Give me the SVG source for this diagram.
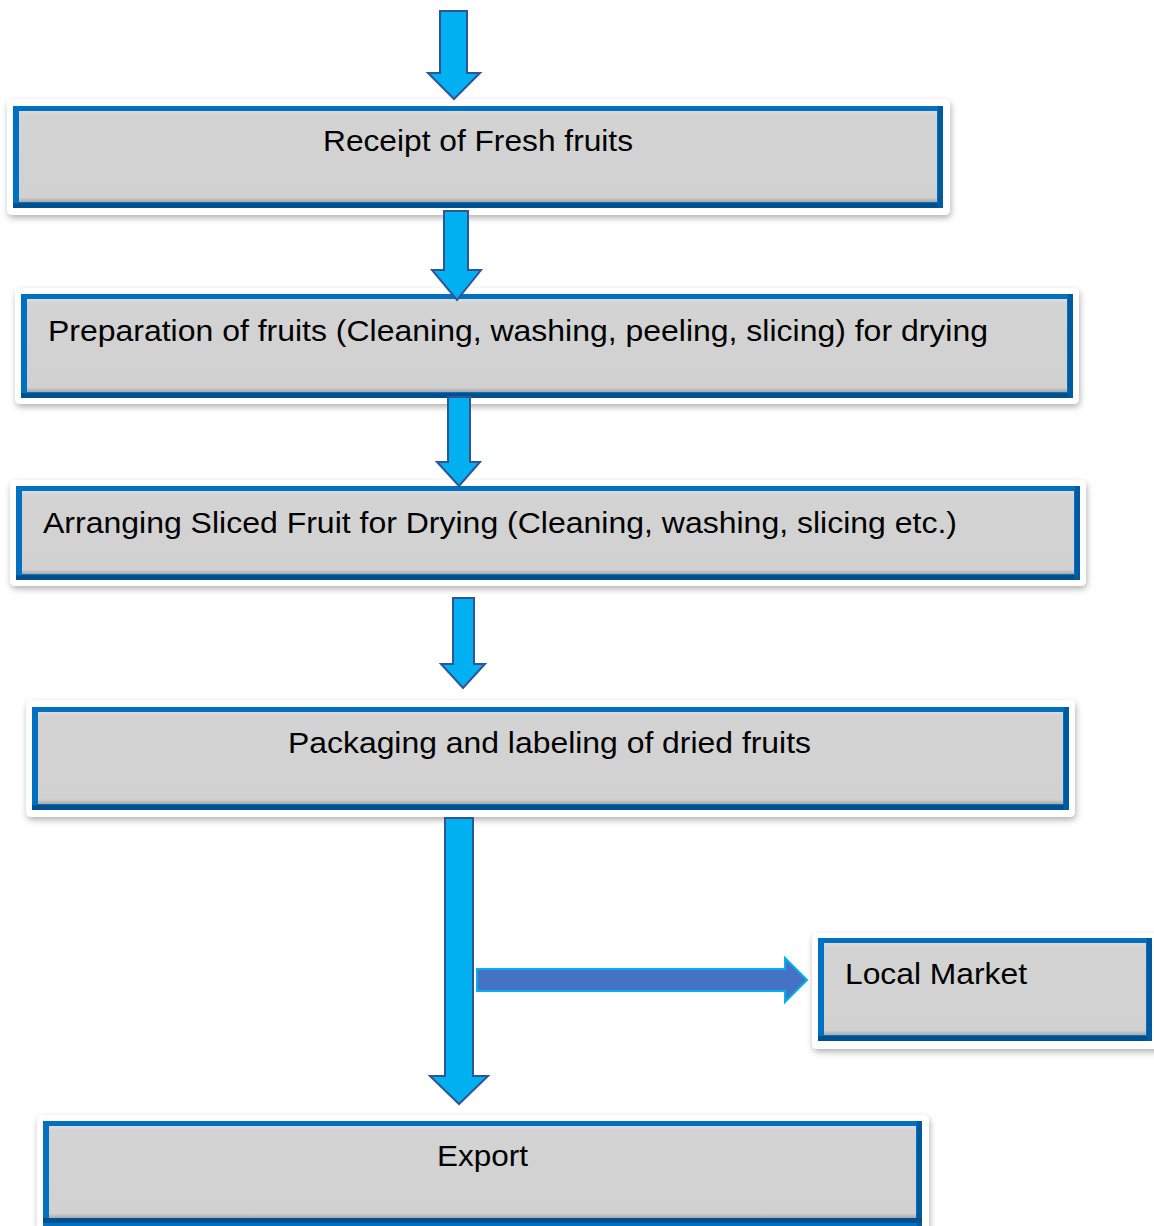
<svg xmlns="http://www.w3.org/2000/svg" width="1154" height="1226" viewBox="0 0 1154 1226">
<style>
.frame{fill:#ffffff;filter:url(#sh)}
.border{fill:#0070C0}
.inner{fill:url(#g)}
.lbl{font-family:"Liberation Sans",Arial,sans-serif;font-size:30px;fill:#000}
.down{fill:#00B0F0;stroke:#2F5597;stroke-width:2;stroke-linejoin:miter}
.side{fill:#4472C4;stroke:#00B0F0;stroke-width:2}
</style>
<defs>
<filter id="sh" x="-5%" y="-20%" width="110%" height="140%">
<feDropShadow dx="1" dy="3" stdDeviation="3" flood-color="#000" flood-opacity="0.3"/>
</filter>
<linearGradient id="g" x1="0" y1="0" x2="0" y2="1">
<stop offset="0" stop-color="#dcdcdc"/>
<stop offset="0.05" stop-color="#d3d3d3"/>
<stop offset="0.95" stop-color="#d1d1d1"/>
<stop offset="1" stop-color="#a9a9a9"/>
</linearGradient>
</defs>
<rect width="1154" height="1226" fill="#ffffff"/>
<g id="receipt">
<rect class="frame" x="7" y="99" width="943" height="116" rx="5"/>
<rect class="border" x="13" y="106" width="930" height="102"/>
<rect x="13" y="203" width="930" height="5" fill="#00508F"/>
<rect x="938" y="106" width="5" height="102" fill="#005a9e"/>
<rect class="inner" x="19" y="111" width="918" height="91"/>
<text class="lbl" x="323" y="151" textLength="310" lengthAdjust="spacingAndGlyphs">Receipt of Fresh fruits</text>
</g>
<g id="preparation">
<rect class="frame" x="15" y="288" width="1064" height="116" rx="5"/>
<rect class="border" x="21" y="294" width="1052" height="104"/>
<rect x="21" y="393" width="1052" height="5" fill="#00508F"/>
<rect x="1068" y="294" width="5" height="104" fill="#005a9e"/>
<rect class="inner" x="27" y="299" width="1040" height="93"/>
<text class="lbl" x="48" y="341" textLength="940" lengthAdjust="spacingAndGlyphs">Preparation of fruits (Cleaning, washing, peeling, slicing) for drying</text>
</g>
<g id="arranging">
<rect class="frame" x="10" y="480" width="1076" height="106" rx="5"/>
<rect class="border" x="16" y="486" width="1064" height="94"/>
<rect x="16" y="575" width="1064" height="5" fill="#00508F"/>
<rect x="1075" y="486" width="5" height="94" fill="#005a9e"/>
<rect class="inner" x="22" y="491" width="1052" height="83"/>
<text class="lbl" x="43" y="533" textLength="914" lengthAdjust="spacingAndGlyphs">Arranging Sliced Fruit for Drying (Cleaning, washing, slicing etc.)</text>
</g>
<g id="packaging">
<rect class="frame" x="26" y="700" width="1049" height="117" rx="5"/>
<rect class="border" x="32" y="707" width="1037" height="103"/>
<rect x="32" y="805" width="1037" height="5" fill="#00508F"/>
<rect x="1064" y="707" width="5" height="103" fill="#005a9e"/>
<rect class="inner" x="38" y="712" width="1025" height="92"/>
<text class="lbl" x="288" y="753" textLength="523" lengthAdjust="spacingAndGlyphs">Packaging and labeling of dried fruits</text>
</g>
<g id="local-market">
<rect class="frame" x="812" y="933" width="350" height="116" rx="5"/>
<rect class="border" x="818" y="938" width="334" height="103"/>
<rect x="818" y="1036" width="334" height="5" fill="#00508F"/>
<rect x="1147" y="938" width="5" height="103" fill="#005a9e"/>
<rect class="inner" x="824" y="943" width="322" height="92"/>
<text class="lbl" x="845" y="984" textLength="182" lengthAdjust="spacingAndGlyphs">Local Market</text>
</g>
<g id="export">
<rect class="frame" x="37" y="1115" width="892" height="130" rx="5"/>
<rect class="border" x="43" y="1121" width="879" height="110"/>
<rect x="917" y="1121" width="5" height="110" fill="#005a9e"/>
<rect x="43" y="1218" width="879" height="5" fill="#00508F"/>
<rect class="inner" x="49" y="1126" width="867" height="92"/>
<text class="lbl" x="437" y="1166" textLength="91" lengthAdjust="spacingAndGlyphs">Export</text>
</g>
<g id="connectors">
<path class="down" d="M440,11 H467 V73 H480 L454,99 L428,73 H440 Z"/>
<path class="down" d="M444,211 H468 V270 H481 L457,300 L432,270 H444 Z"/>
<path class="down" d="M448,397 H470 V462 H480 L459,486 L437,462 H448 Z"/>
<path class="down" d="M453,598 H474 V664 H485 L463,688 L441,664 H453 Z"/>
<path class="down" d="M445,818 H473 V1076 H488 L459,1104 L430,1076 H445 Z"/>
<path class="side" d="M477,969 H785 V958 L807,980 L785,1002 V991 H477 Z"/>
</g>
</svg>
